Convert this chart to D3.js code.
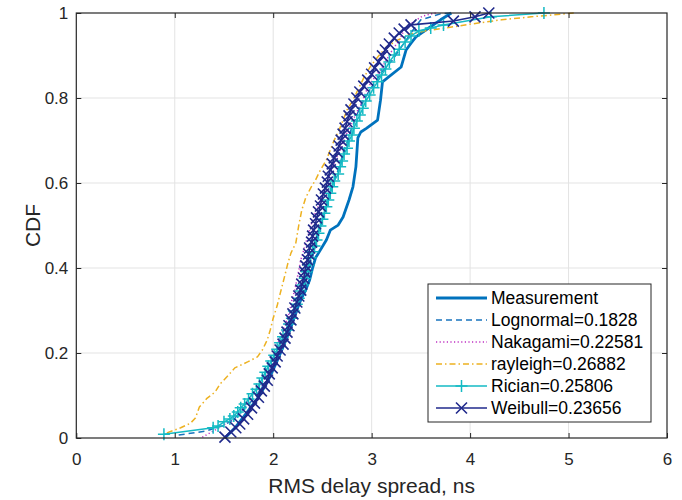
<!DOCTYPE html>
<html>
<head>
<meta charset="utf-8">
<script src="https://cdn.jsdelivr.net/npm/d3@7/dist/d3.min.js"></script>
<style>
body { margin: 0; background: #fff; }
svg text { font-family: "Liberation Sans", Arial, Helvetica, sans-serif; }
</style>
</head>
<body>
<svg id="chart" width="682" height="500"></svg>
<script>
// ticks
var xTicks = [0, 1, 2, 3, 4, 5, 6];
var yTicks = [0, 0.2, 0.4, 0.6, 0.8, 1];

// empirical CDF of measured RMS delay spread (ns, cdf)
var measurement = [[1.51,0],[1.62,0.026],[1.73,0.059],[1.85,0.096],[1.95,0.136],[2.03,0.176],[2.10,0.214],
  [2.17,0.254],[2.23,0.296],[2.28,0.325],[2.33,0.348],[2.37,0.372],[2.40,0.400],[2.43,0.424],[2.46,0.435],
  [2.54,0.466],[2.58,0.489],[2.66,0.501],[2.71,0.520],[2.77,0.560],[2.81,0.591],[2.84,0.638],[2.86,0.706],
  [2.89,0.720],[2.95,0.729],[3.06,0.748],[3.09,0.795],[3.11,0.838],[3.17,0.849],[3.30,0.873],[3.35,0.913],
  [3.40,0.929],[3.45,0.944],[3.55,0.960],[3.70,0.984],[3.81,1.000]];

var lognormal = [[1.04,0.007],[1.31,0.016],[1.48,0.028],[1.59,0.042],[1.69,0.066],[1.79,0.089],[1.87,0.113],
  [1.93,0.136],[1.99,0.160],[2.03,0.184],[2.09,0.207],[2.13,0.231],[2.17,0.254],[2.21,0.278],[2.25,0.301],
  [2.28,0.325],[2.31,0.348],[2.34,0.372],[2.37,0.395],[2.39,0.419],[2.42,0.442],[2.44,0.466],[2.47,0.489],
  [2.50,0.513],[2.53,0.536],[2.56,0.560],[2.59,0.584],[2.62,0.607],[2.66,0.631],[2.69,0.654],[2.72,0.678],
  [2.76,0.701],[2.79,0.725],[2.83,0.748],[2.87,0.772],[2.92,0.795],[2.98,0.819],[3.05,0.842],[3.12,0.866],
  [3.21,0.889],[3.28,0.913],[3.35,0.936],[3.42,0.960],[3.50,0.984],[3.70,0.998],[3.81,1.000]];

var nakagami = [[1.28,0.002],[1.39,0.016],[1.48,0.028],[1.57,0.042],[1.65,0.061],[1.72,0.078],[1.79,0.099],
  [1.85,0.118],[1.90,0.136],[1.95,0.160],[1.99,0.184],[2.03,0.207],[2.06,0.231],[2.10,0.254],[2.14,0.278],
  [2.17,0.301],[2.19,0.325],[2.22,0.348],[2.24,0.372],[2.26,0.395],[2.28,0.419],[2.31,0.442],[2.34,0.466],
  [2.37,0.489],[2.40,0.513],[2.44,0.536],[2.48,0.560],[2.52,0.584],[2.56,0.607],[2.59,0.631],[2.63,0.654],
  [2.68,0.678],[2.72,0.701],[2.76,0.725],[2.81,0.748],[2.86,0.772],[2.91,0.795],[2.95,0.819],[3.01,0.842],
  [3.09,0.866],[3.15,0.889],[3.21,0.913],[3.28,0.936],[3.33,0.960],[3.42,0.979],[3.52,0.993],[3.65,1.000]];

var rayleigh = [[0.92,0.012],[1.06,0.024],[1.16,0.035],[1.21,0.047],[1.25,0.073],[1.33,0.094],[1.41,0.108],
  [1.46,0.127],[1.53,0.144],[1.61,0.165],[1.74,0.179],[1.84,0.191],[1.89,0.207],[1.94,0.231],[1.97,0.254],
  [2.00,0.282],[2.04,0.311],[2.07,0.339],[2.12,0.384],[2.15,0.412],[2.18,0.435],[2.23,0.459],[2.26,0.501],
  [2.29,0.536],[2.33,0.565],[2.38,0.588],[2.43,0.607],[2.48,0.631],[2.54,0.654],[2.58,0.678],[2.62,0.701],
  [2.67,0.725],[2.71,0.748],[2.75,0.772],[2.81,0.795],[2.87,0.824],[2.93,0.852],[2.99,0.875],[3.07,0.899],
  [3.15,0.920],[3.26,0.936],[3.40,0.951],[3.55,0.958],[3.76,0.965],[4.01,0.974],[4.32,0.984],[4.62,0.991],
  [5.06,1.000]];

var rician = [[0.89,0.009],[1.39,0.024],[1.44,0.028],[1.50,0.038],[1.56,0.045],[1.60,0.052],[1.64,0.061],
  [1.67,0.071],[1.71,0.080],[1.75,0.092],[1.79,0.104],[1.83,0.115],[1.86,0.127],[1.89,0.141],[1.92,0.155],
  [1.95,0.169],[1.98,0.181],[2.01,0.195],[2.04,0.209],[2.07,0.224],[2.10,0.238],[2.14,0.254],[2.16,0.268],
  [2.19,0.282],[2.21,0.299],[2.24,0.315],[2.26,0.329],[2.28,0.346],[2.30,0.360],[2.32,0.376],[2.34,0.391],
  [2.36,0.407],[2.38,0.424],[2.40,0.438],[2.42,0.452],[2.44,0.466],[2.46,0.482],[2.48,0.499],[2.50,0.515],
  [2.52,0.529],[2.54,0.544],[2.56,0.560],[2.58,0.576],[2.60,0.591],[2.62,0.605],[2.66,0.621],[2.68,0.638],
  [2.70,0.652],[2.72,0.668],[2.75,0.682],[2.77,0.699],[2.80,0.713],[2.82,0.729],[2.85,0.746],[2.88,0.760],
  [2.91,0.776],[2.94,0.793],[2.98,0.807],[3.02,0.824],[3.06,0.838],[3.10,0.854],[3.14,0.868],[3.18,0.885],
  [3.23,0.901],[3.28,0.915],[3.34,0.932],[3.40,0.946],[3.48,0.958],[3.60,0.965],[3.73,0.972],[4.21,0.991],
  [4.75,1.000]];

var weibull = [[1.51,0.002],[1.57,0.014],[1.62,0.024],[1.66,0.033],[1.70,0.045],[1.74,0.056],[1.78,0.071],
  [1.81,0.082],[1.85,0.096],[1.88,0.111],[1.91,0.122],[1.94,0.136],[1.96,0.151],[1.99,0.165],[2.02,0.179],
  [2.04,0.193],[2.07,0.207],[2.10,0.221],[2.12,0.235],[2.14,0.249],[2.16,0.264],[2.18,0.278],[2.20,0.292],
  [2.22,0.306],[2.24,0.320],[2.26,0.334],[2.28,0.348],[2.29,0.362],[2.31,0.376],[2.32,0.391],[2.33,0.405],
  [2.35,0.419],[2.36,0.433],[2.37,0.447],[2.39,0.461],[2.40,0.475],[2.41,0.489],[2.43,0.504],[2.44,0.518],
  [2.46,0.532],[2.48,0.546],[2.49,0.560],[2.51,0.574],[2.53,0.588],[2.55,0.602],[2.56,0.616],[2.58,0.631],
  [2.60,0.645],[2.62,0.659],[2.65,0.673],[2.67,0.687],[2.69,0.701],[2.71,0.715],[2.73,0.729],[2.75,0.744],
  [2.77,0.758],[2.79,0.772],[2.82,0.786],[2.85,0.800],[2.88,0.814],[2.92,0.828],[2.96,0.842],[3.00,0.856],
  [3.03,0.871],[3.07,0.885],[3.11,0.899],[3.14,0.913],[3.18,0.927],[3.23,0.941],[3.28,0.953],[3.33,0.962],
  [3.40,0.972],[3.83,0.981],[4.05,0.991],[4.19,1.000]];

var legendNames = ["Measurement", "Lognormal=0.1828", "Nakagami=0.22581", "rayleigh=0.26882", "Rician=0.25806", "Weibull=0.23656"];

var series = [
    { name: legendNames[0], data: measurement, color: "#0072BD", width: 2.8, dash: null, marker: null },
    { name: legendNames[1], data: lognormal, color: "#1874BE", width: 1.5, dash: "6,4", marker: null },
    { name: legendNames[2], data: nakagami, color: "#BF30C2", width: 1.5, dash: "1.2,2.4", marker: null },
    { name: legendNames[3], data: rayleigh, color: "#EDB120", width: 1.5, dash: "6,3,1.5,3", marker: null },
    { name: legendNames[4], data: rician, color: "#14BAC4", width: 1.5, dash: null, marker: "plus" },
    { name: legendNames[5], data: weibull, color: "#202A8C", width: 1.6, dash: null, marker: "cross" }
];

var svg = d3.select("#chart");
var pLeft = 76.3, pRight = 667, pTop = 13, pBottom = 438;
var fontCol = "#262626";

var x = d3.scaleLinear().domain([0, 6]).range([pLeft, pRight]);
var y = d3.scaleLinear().domain([0, 1]).range([pBottom, pTop]);

// grid
var grid = svg.append("g").attr("stroke", "#e3e3e3").attr("stroke-width", 1);
grid.selectAll(".gx").data(xTicks.slice(1, -1)).enter().append("line")
    .attr("x1", function(d) { return x(d); }).attr("x2", function(d) { return x(d); })
    .attr("y1", pTop).attr("y2", pBottom);
grid.selectAll(".gy").data(yTicks.slice(1, -1)).enter().append("line")
    .attr("x1", pLeft).attr("x2", pRight)
    .attr("y1", function(d) { return y(d); }).attr("y2", function(d) { return y(d); });

function markerPath(type, s)
{
    if(type == "plus") return "M" + (-s) + ",0H" + s + "M0," + (-s) + "V" + s;
    return "M" + (-s) + "," + (-s) + "L" + s + "," + s + "M" + (-s) + "," + s + "L" + s + "," + (-s);
}

var line = d3.line().x(function(d) { return x(d[0]); }).y(function(d) { return y(d[1]); });

// curves
series.forEach(function(s) {
    var g = svg.append("g");
    g.append("path")
        .datum(s.data)
        .attr("d", line)
        .attr("fill", "none")
        .attr("stroke", s.color)
        .attr("stroke-width", s.width)
        .attr("stroke-linejoin", "round")
        .attr("stroke-dasharray", s.dash);
    if(s.marker)
    {
        g.selectAll(".mk").data(s.data).enter().append("path")
            .attr("d", markerPath(s.marker, s.marker == "plus" ? 6 : 5.5))
            .attr("transform", function(d) { return "translate(" + x(d[0]) + "," + y(d[1]) + ")"; })
            .attr("fill", "none")
            .attr("stroke", s.color)
            .attr("stroke-width", s.width);
    }
});

// axes, ticks pointing inward on all four sides
function styleAxis(g)
{
    g.select(".domain").remove();
    g.selectAll(".tick line").attr("stroke", fontCol);
    g.attr("font-size", 17).attr("font-family", null).style("color", fontCol);
}
svg.append("g").attr("transform", "translate(0," + pBottom + ")")
    .call(d3.axisBottom(x).tickValues(xTicks).tickFormat(function(d) { return String(d); })
        .tickSizeInner(-5).tickSizeOuter(0).tickPadding(15))
    .call(styleAxis);
svg.append("g").attr("transform", "translate(0," + pTop + ")")
    .call(d3.axisTop(x).tickValues(xTicks.slice(1, -1)).tickFormat("").tickSizeInner(-5).tickSizeOuter(0))
    .call(styleAxis);
svg.append("g").attr("transform", "translate(" + pLeft + ",0)")
    .call(d3.axisLeft(y).tickValues(yTicks).tickFormat(function(d) { return String(d); })
        .tickSizeInner(-5).tickSizeOuter(0).tickPadding(8))
    .call(styleAxis);
svg.append("g").attr("transform", "translate(" + pRight + ",0)")
    .call(d3.axisRight(y).tickValues(yTicks.slice(1, -1)).tickFormat("").tickSizeInner(-5).tickSizeOuter(0))
    .call(styleAxis);

svg.append("rect")
    .attr("x", pLeft).attr("y", pTop).attr("width", pRight - pLeft).attr("height", pBottom - pTop)
    .attr("fill", "none").attr("stroke", fontCol).attr("stroke-width", 1.2);

// axis labels
svg.append("text")
    .attr("x", (pLeft + pRight) / 2).attr("y", 493)
    .attr("text-anchor", "middle").attr("font-size", 21).attr("fill", fontCol)
    .text("RMS delay spread, ns");
svg.append("text")
    .attr("transform", "translate(40," + ((pTop + pBottom) / 2) + ") rotate(-90)")
    .attr("text-anchor", "middle").attr("font-size", 21).attr("fill", fontCol)
    .text("CDF");

// legend
var lx = 428, ly = 284, lw = 223, lh = 138, ldy = 22, ly0 = 298;
var leg = svg.append("g");
leg.append("rect").attr("x", lx).attr("y", ly).attr("width", lw).attr("height", lh)
    .attr("fill", "#fff").attr("stroke", fontCol).attr("stroke-width", 1);
series.forEach(function(s, i) {
    var yy = ly0 + i * ldy;
    leg.append("line")
        .attr("x1", 436).attr("x2", 487).attr("y1", yy).attr("y2", yy)
        .attr("stroke", s.color).attr("stroke-width", s.width)
        .attr("stroke-dasharray", s.dash);
    if(s.marker)
    {
        leg.append("path")
            .attr("d", markerPath(s.marker, s.marker == "plus" ? 6 : 5.5))
            .attr("transform", "translate(461.5," + yy + ")")
            .attr("fill", "none").attr("stroke", s.color).attr("stroke-width", s.width);
    }
    leg.append("text")
        .attr("x", 491).attr("y", yy).attr("dy", "0.36em")
        .attr("font-size", 17.5).attr("fill", "#000")
        .text(s.name);
});
</script>
</body>
</html>
